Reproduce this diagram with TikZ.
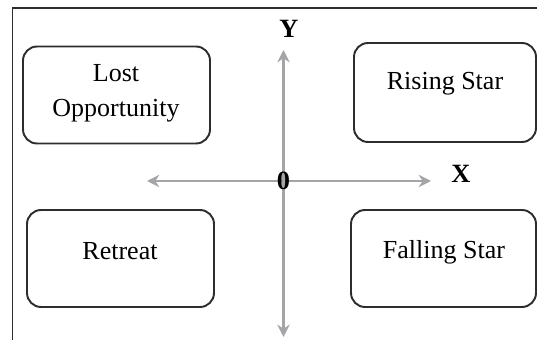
\documentclass[tikz,border=0pt]{standalone}
\usepackage{fontspec}
\setmainfont{Liberation Serif}
\usetikzlibrary{arrows.meta}

\definecolor{boxGray}{RGB}{45,45,45}
\definecolor{axisGray}{RGB}{165,165,168}

\begin{document}
\begin{tikzpicture}[x=0.02cm,y=-0.02cm,
        quadNode/.style = {draw=boxGray,line width=1.1pt,rounded corners=0.28cm,minimum width=3.74cm,minimum height=1.94cm}, % empty quadrant box
        textNode/.style = {font=\fontsize{14.8pt}{19.9pt}\selectfont,align=center,inner sep=0pt}, % quadrant name
        axisLabel/.style = {font=\fontsize{15pt}{18pt}\selectfont\bfseries,inner sep=0pt},
        axisLine/.style = {draw=axisGray,line width=1.6pt,{Stealth[length=7pt,width=7pt]}-{Stealth[length=7pt,width=7pt]}}
        ]
        \useasboundingbox (0,0) rectangle (537,340);
        \draw[boxGray,line width=0.85pt] (537,8) -- (12.5,8) -- (12.5,340);

        \node[quadNode] (lost) at (116.5,95) {};
        \node[quadNode,minimum width=3.64cm,minimum height=1.98cm] (rising) at (445,92.5) {};
        \node[quadNode] (retreat) at (120.5,258.5) {};
        \node[quadNode,minimum width=3.7cm] (falling) at (443.5,258.5) {};

        \node[textNode] (lostText) at (116,93) {Lost\\Opportunity};
        \node[textNode] (risingText) at (445,84) {Rising Star};
        \node[textNode] (retreatText) at (120,251) {Retreat};
        \node[textNode] (fallingText) at (444,252) {Falling Star};

        \coordinate (origin) at (283.5,181);
        \coordinate (xLeft) at (147,181);
        \coordinate (xRight) at (431,181);
        \coordinate (yTop) at (283.5,50);
        \coordinate (yBottom) at (283.5,337);
        \draw[axisLine] (xLeft) -- (xRight);
        \draw[axisLine] (yBottom) -- (yTop);

        \node[axisLabel] (zero) at (origin) {0};
        \node[axisLabel] (xLabel) at (461,174) {X};
        \node[axisLabel] (yLabel) at (289,29) {Y};
    \end{tikzpicture}
\end{document}
